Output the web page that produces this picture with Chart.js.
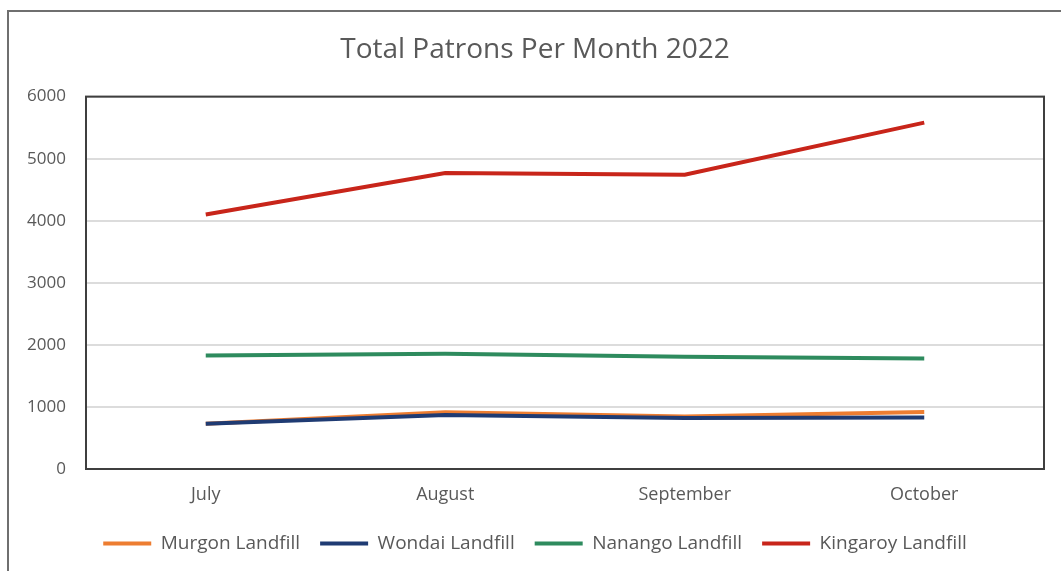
<!DOCTYPE html>
<html>
<head>
<meta charset="utf-8">
<script src="https://cdn.jsdelivr.net/npm/chart.js@4/dist/chart.umd.min.js"></script>
<style>
  html,body{margin:0;padding:0;background:#fff;overflow:hidden;}
  #frame{position:absolute;left:7px;top:10px;width:1200px;height:700px;border:2px solid #6f6f6f;box-sizing:border-box;}
  #wrap{position:absolute;left:0;top:0;width:1061px;height:571px;}
</style>
</head>
<body>
<div id="frame"></div>
<div id="wrap"><canvas id="chart" width="1061" height="571"></canvas></div>
<script>
/* ---------- данные ---------- */
const months   = ['July', 'August', 'September', 'October'];
const murgon   = [730, 915, 845, 920];
const wondai   = [728, 870, 822, 830];
const nanango  = [1828, 1855, 1810, 1780];
const kingaroy = [4100, 4770, 4740, 5580];
const yTicks   = [0, 1000, 2000, 3000, 4000, 5000, 6000];

const FONT = "'Open Sans', 'Liberation Sans', sans-serif";
const GREY = '#595959';

/* рамка области построения */
const boxPlugin = {
  id: 'plotBox',
  afterDraw(chart){
    const a = chart.chartArea, c = chart.ctx;
    c.save();
    c.strokeStyle = '#3f3f3f';
    c.lineWidth = 2;
    c.strokeRect(a.left, a.top, a.right - a.left, a.bottom - a.top);
    c.restore();
  }
};

const ds = (label, data, color, order) => ({
  label, data, order,
  borderColor: color,
  backgroundColor: color,
  borderWidth: 4,
  pointRadius: 0,
  tension: 0,
  fill: false
});

new Chart(document.getElementById('chart').getContext('2d'), {
  type: 'line',
  data: {
    labels: months,
    datasets: [
      ds('Murgon Landfill', murgon, '#ED7D31', 3),
      ds('Wondai Landfill', wondai, '#1F3B73', 2),
      ds('Nanango Landfill', nanango, '#2E8B5E', 1),
      ds('Kingaroy Landfill', kingaroy, '#C8251A', 0)
    ]
  },
  options: {
    responsive: false,
    animation: false,
    layout: { padding: { left: 26, right: 17, top: 0, bottom: 8 } },
    plugins: {
      title: {
        display: true,
        text: 'Total Patrons Per Month 2022',
        color: GREY,
        font: { family: FONT, size: 28, weight: 'normal' },
        padding: { top: 33, bottom: 30 }
      },
      legend: {
        position: 'bottom',
        labels: {
          color: GREY,
          font: { family: FONT, size: 19 },
          boxWidth: 48,
          boxHeight: 4,
          padding: 20,
          sort: (a, b) => a.datasetIndex - b.datasetIndex,
          generateLabels: chart => Chart.defaults.plugins.legend.labels.generateLabels(chart)
            .map(l => Object.assign(l, { lineWidth: 0 }))
        }
      },
      tooltip: { enabled: false }
    },
    scales: {
      x: {
        offset: true,
        afterFit: s => { s.height = 45; },
        grid: { display: false, drawTicks: false },
        border: { display: false },
        ticks: { color: GREY, font: { family: FONT, size: 18 }, padding: 15 }
      },
      y: {
        min: 0, max: 6000,
        afterFit: s => { s.width = 60; },
        afterBuildTicks: s => { s.ticks = yTicks.map(v => ({ value: v })); },
        grid: { color: '#dcdcdc', lineWidth: 2, drawTicks: false },
        border: { display: false },
        ticks: {
          color: GREY, font: { family: FONT, size: 17 }, padding: 20,
          callback: v => String(v)
        }
      }
    }
  },
  plugins: [boxPlugin]
});
</script>
</body>
</html>
